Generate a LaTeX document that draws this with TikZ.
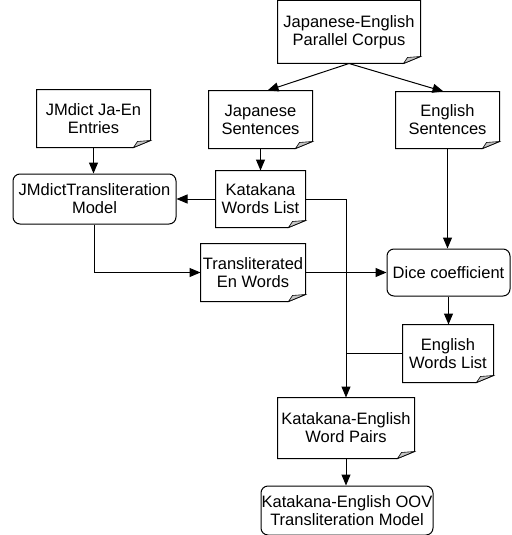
\documentclass[tikz,border=0pt]{standalone}
\usepackage{fontspec}
\setmainfont{Liberation Sans}
\usetikzlibrary{arrows.meta}
\tikzset{
  doc/.style={minimum width=#1,inner sep=0pt,align=center},
  proc/.style={draw,rounded corners=7pt,minimum width=#1,inner sep=0pt,align=center},
}
\begin{document}
\begin{tikzpicture}[x=1pt,y=-1pt,line width=1pt,>={Triangle[length=11pt,width=9pt]},
  font=\fontsize{16.5}{18}\selectfont]
\useasboundingbox (0,0) rectangle (511,535);
\node[doc=142,minimum height=62] (corpus) at (349,32) {Japanese-English\\Parallel Corpus};
\node[doc=113,minimum height=57] (jmdict) at (93.5,118.5) {JMdict Ja-En\\Entries};
\node[doc=103,minimum height=57] (jsent) at (260.5,119.5) {Japanese\\Sentences};
\node[doc=103,minimum height=56] (esent) at (447.5,120) {English\\Sentences};
\node[proc=163,minimum height=50] (jtrans) at (94.5,199) {JMdictTransliteration\\Model};
\node[doc=89,minimum height=56] (kata) at (260.5,199) {Katakana\\Words List};
\node[doc=104,minimum height=57] (translit) at (253,272.5) {Transliterated\\En Words};
\node[proc=123,minimum height=47] (dice) at (448.5,272.5) {Dice coefficient};
\node[doc=90,minimum height=57] (ewords) at (448,353.5) {English\\Words List};
\node[doc=136,minimum height=60] (pairs) at (346,428) {Katakana-English\\Word Pairs};
\node[proc=172,minimum height=49] (oov) at (347,510.5) {Katakana-English OOV\\Transliteration Model};
% document outlines with folded corner
\foreach \n in {corpus,jmdict,jsent,esent,kata,translit,ewords,pairs} {
  \draw (\n.north west) -- (\n.north east) -- ([yshift=7pt]\n.south east)
    -- ([xshift=-17pt]\n.south east) -- (\n.south west) -- cycle;
  \draw[fill=gray!45,line width=0.6pt] ([yshift=7pt]\n.south east) -- ([xshift=-17pt]\n.south east)
    -- ([xshift=-13pt,yshift=6pt]\n.south east) -- cycle;
}
% connectors
\draw[->] (corpus.south) -- ([xshift=7pt]jsent.north);
\draw[->] (corpus.south) -- ([xshift=-4pt]esent.north);
\draw[->] (jmdict.south) -- (jmdict.south |- jtrans.north);
\draw[->] (jsent.south) -- (kata.north);
\draw[->] (kata.west) -- (jtrans.east);
\draw[->] (jtrans.south) |- (translit.west);
\draw[->] (translit.east) -- (dice.west);
\draw[->] (esent.south) -- (esent.south |- dice.north);
\draw[->] (dice.south) -- (dice.south |- ewords.north);
\draw[->] (kata.east) -| (pairs.north);
\draw (ewords.west) -- (ewords.west -| pairs.north);
\draw[->] (pairs.south) -- (pairs.south |- oov.north);
\end{tikzpicture}
\end{document}
